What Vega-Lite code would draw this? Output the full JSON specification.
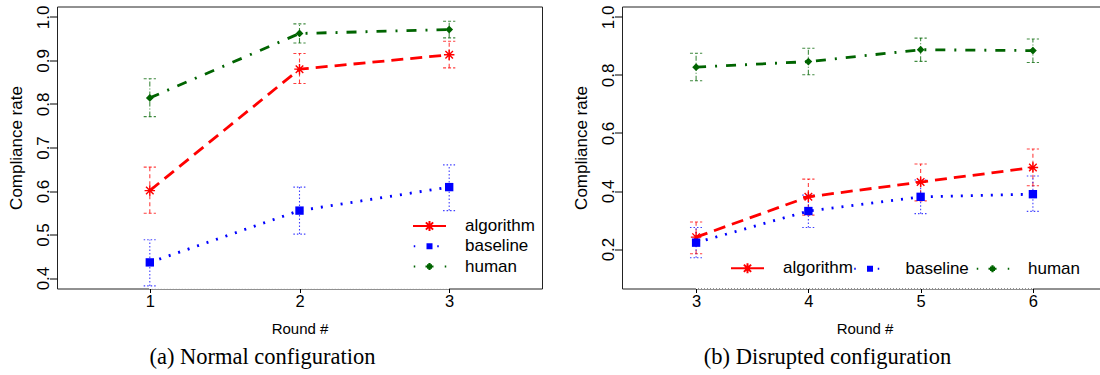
{
  "$schema": "https://vega.github.io/schema/vega-lite/v6.json",
  "background": "white",
  "padding": {"left": 6, "top": 4.5, "right": 0, "bottom": 0},
  "spacing": 28,
  "config": {
    "view": {"stroke": "#222", "strokeWidth": 1},
    "axis": {"labelFont": "Liberation Sans", "titleFont": "Liberation Sans", "labelColor": "black", "titleColor": "black", "tickColor": "black", "domain": false, "grid": false, "titleFontWeight": "normal", "labelFlush": false, "labelOverlap": false},
    "axisX": {"labelFontSize": 16.5, "titleFontSize": 15, "tickSize": 4, "labelPadding": 1, "titlePadding": 11},
    "axisY": {"labelAngle": 270, "labelAlign": "center", "labelBaseline": "alphabetic", "labelFontSize": 17, "labelPadding": 1, "tickSize": 7.5, "titleFontSize": 17, "titlePadding": 10, "minExtent": 22, "maxExtent": 22},
    "legend": {"labelFont": "Liberation Sans", "labelFontSize": 17, "labelColor": "black", "symbolSize": 100, "symbolStrokeWidth": 2, "symbolOpacity": 1, "labelOffset": 27, "padding": 0, "rowPadding": 1.3, "columnPadding": -3.5, "gridAlign": "all"},
    "title": {"font": "Liberation Serif", "fontSize": 22.5, "fontWeight": "normal", "color": "black", "orient": "bottom", "anchor": "middle", "offset": 10, "dx": -37}
  },
  "datasets": {
    "d": [
      {"panel": "a", "round": 1, "series": "algorithm", "mean": 0.601, "lo": 0.549, "hi": 0.655},
      {"panel": "a", "round": 2, "series": "algorithm", "mean": 0.880, "lo": 0.847, "hi": 0.916},
      {"panel": "a", "round": 3, "series": "algorithm", "mean": 0.913, "lo": 0.883, "hi": 0.944},
      {"panel": "a", "round": 1, "series": "baseline", "mean": 0.436, "lo": 0.382, "hi": 0.488},
      {"panel": "a", "round": 2, "series": "baseline", "mean": 0.555, "lo": 0.501, "hi": 0.609},
      {"panel": "a", "round": 3, "series": "baseline", "mean": 0.609, "lo": 0.555, "hi": 0.660},
      {"panel": "a", "round": 1, "series": "human", "mean": 0.814, "lo": 0.771, "hi": 0.858},
      {"panel": "a", "round": 2, "series": "human", "mean": 0.962, "lo": 0.940, "hi": 0.984},
      {"panel": "a", "round": 3, "series": "human", "mean": 0.971, "lo": 0.952, "hi": 0.990},
      {"panel": "b", "round": 3, "series": "algorithm", "mean": 0.241, "lo": 0.184, "hi": 0.293},
      {"panel": "b", "round": 4, "series": "algorithm", "mean": 0.380, "lo": 0.317, "hi": 0.441},
      {"panel": "b", "round": 5, "series": "algorithm", "mean": 0.431, "lo": 0.366, "hi": 0.493},
      {"panel": "b", "round": 6, "series": "algorithm", "mean": 0.481, "lo": 0.418, "hi": 0.545},
      {"panel": "b", "round": 3, "series": "baseline", "mean": 0.222, "lo": 0.170, "hi": 0.274},
      {"panel": "b", "round": 4, "series": "baseline", "mean": 0.331, "lo": 0.274, "hi": 0.386},
      {"panel": "b", "round": 5, "series": "baseline", "mean": 0.380, "lo": 0.322, "hi": 0.438},
      {"panel": "b", "round": 6, "series": "baseline", "mean": 0.389, "lo": 0.330, "hi": 0.452},
      {"panel": "b", "round": 3, "series": "human", "mean": 0.827, "lo": 0.780, "hi": 0.875},
      {"panel": "b", "round": 4, "series": "human", "mean": 0.846, "lo": 0.801, "hi": 0.892},
      {"panel": "b", "round": 5, "series": "human", "mean": 0.887, "lo": 0.847, "hi": 0.927},
      {"panel": "b", "round": 6, "series": "human", "mean": 0.884, "lo": 0.843, "hi": 0.924}
    ]
  },
  "data": {"name": "d"},
  "resolve": {"scale": {"color": "independent", "stroke": "independent", "shape": "independent", "strokeDash": "independent"}},
  "hconcat": [
    {
      "title": "(a) Normal configuration",
      "width": 485,
      "height": 282,
      "transform": [{"filter": "datum.panel == 'a'"}],
      "resolve": {"scale": {"strokeDash": "independent"}},
      "encoding": {
        "x": {"field": "round", "type": "quantitative", "scale": {"domain": [0.38, 3.62], "nice": false, "zero": false},
              "axis": {"values": [1, 2, 3], "format": "d", "title": "Round #"}}
      },
      "layer": [
        {
          "mark": {"type": "rule", "strokeWidth": 1.1, "opacity": 0.75},
          "encoding": {
            "y": {"field": "lo", "type": "quantitative", "scale": {"domain": [0.376, 1.024], "nice": false, "zero": false}, "axis": {"title": "Compliance rate", "values": [0.4, 0.5, 0.6, 0.7, 0.8, 0.9, 1.0], "format": ".1f"}},
            "y2": {"field": "hi"},
            "stroke": {"field": "series", "type": "nominal", "scale": {"domain": ["human", "baseline", "algorithm"], "range": ["#006400", "#0000ff", "#ff0000"]}, "legend": null},
            "strokeDash": {"field": "series", "type": "nominal", "scale": {"domain": ["human", "baseline", "algorithm"], "range": [[5, 2, 1, 2], [1.5, 2], [4, 3]]}, "legend": null}
          }
        },
        {
          "mark": {"type": "point", "shape": "M-1,0H1", "size": 150, "strokeWidth": 1.1, "opacity": 0.75, "filled": false},
          "encoding": {
            "y": {"field": "lo", "type": "quantitative", "axis": {"title": "Compliance rate", "values": [0.4, 0.5, 0.6, 0.7, 0.8, 0.9, 1.0], "format": ".1f"}},
            "stroke": {"field": "series", "type": "nominal", "legend": null},
            "strokeDash": {"field": "series", "type": "nominal", "scale": {"domain": ["human", "baseline", "algorithm"], "range": [[3, 2], [1.5, 2], [3, 2]]}, "legend": null}
          }
        },
        {
          "mark": {"type": "point", "shape": "M-1,0H1", "size": 150, "strokeWidth": 1.1, "opacity": 0.75, "filled": false},
          "encoding": {
            "y": {"field": "hi", "type": "quantitative", "axis": {"title": "Compliance rate", "values": [0.4, 0.5, 0.6, 0.7, 0.8, 0.9, 1.0], "format": ".1f"}},
            "stroke": {"field": "series", "type": "nominal", "legend": null},
            "strokeDash": {"field": "series", "type": "nominal", "scale": {"domain": ["human", "baseline", "algorithm"], "range": [[3, 2], [1.5, 2], [3, 2]]}, "legend": null}
          }
        },
        {
          "mark": {"type": "line", "strokeWidth": 2.8},
          "encoding": {
            "y": {"field": "mean", "type": "quantitative", "axis": {"title": "Compliance rate", "values": [0.4, 0.5, 0.6, 0.7, 0.8, 0.9, 1.0], "format": ".1f"}},
            "stroke": {"field": "series", "type": "nominal", "legend": null},
            "strokeDash": {"field": "series", "type": "nominal", "scale": {"domain": ["human", "baseline", "algorithm"], "range": [[10, 9, 2, 9], [2, 8], [12, 7]]}, "legend": null}
          }
        },
        {
          "transform": [{"filter": "datum.series == 'algorithm'"}],
          "mark": {"type": "point", "shape": "M-1,0H1M0,-1V1M-0.72,-0.72L0.72,0.72M-0.72,0.72L0.72,-0.72", "size": 110, "filled": false, "color": "#ff0000", "strokeWidth": 1.4, "opacity": 1},
          "encoding": {"y": {"field": "mean", "type": "quantitative", "axis": {"title": "Compliance rate", "values": [0.4, 0.5, 0.6, 0.7, 0.8, 0.9, 1.0], "format": ".1f"}}}
        },
        {
          "transform": [{"filter": "datum.series == 'baseline'"}],
          "mark": {"type": "point", "shape": "square", "size": 70, "filled": true, "color": "#0000ff", "opacity": 1},
          "encoding": {"y": {"field": "mean", "type": "quantitative", "axis": {"title": "Compliance rate", "values": [0.4, 0.5, 0.6, 0.7, 0.8, 0.9, 1.0], "format": ".1f"}}}
        },
        {
          "transform": [{"filter": "datum.series == 'human'"}],
          "mark": {"type": "point", "shape": "diamond", "size": 60, "filled": true, "color": "#006400", "opacity": 1},
          "encoding": {"y": {"field": "mean", "type": "quantitative", "axis": {"title": "Compliance rate", "values": [0.4, 0.5, 0.6, 0.7, 0.8, 0.9, 1.0], "format": ".1f"}}}
        },
        {
          "mark": {"type": "rule", "color": "#ffffff", "strokeWidth": 1, "strokeDash": [1.5, 1.5]},
          "encoding": {
            "x": {"datum": 1, "type": "quantitative", "axis": {"values": [1, 2, 3], "format": "d", "title": "Round #"}},
            "x2": {"datum": 3},
            "y": {"datum": 0.376, "type": "quantitative", "axis": {"title": "Compliance rate", "values": [0.4, 0.5, 0.6, 0.7, 0.8, 0.9, 1.0], "format": ".1f"}}
          }
        },
        {
          "mark": {"type": "point", "filled": false, "opacity": 0, "size": 100, "strokeWidth": 2},
          "encoding": {
            "y": {"field": "mean", "type": "quantitative", "axis": {"title": "Compliance rate", "values": [0.4, 0.5, 0.6, 0.7, 0.8, 0.9, 1.0], "format": ".1f"}},
            "color": {"field": "series", "type": "nominal", "scale": {"domain": ["algorithm", "baseline", "human"], "range": ["#ff0000", "#0000ff", "#006400"]}, "legend": {"title": null, "orient": "none", "legendX": 364, "legendY": 211, "direction": "vertical"}},
            "shape": {"field": "series", "type": "nominal", "scale": {"domain": ["algorithm", "baseline", "human"], "range": [
              "M-3.3,0H3.3M0,-1V1M-0.72,-0.72L0.72,0.72M-0.72,0.72L0.72,-0.72",
              "M-3.15,0H-2.85M-0.6,-0.4H0.6M-0.6,0H0.6M-0.6,0.4H0.6M1.55,0H1.85",
              "M-3.15,0H-2.85M-0.8,0H0.8M-0.5,-0.25H0.5M-0.5,0.25H0.5M-0.22,-0.5H0.22M-0.22,0.5H0.22M3.05,0H3.35"
            ]}, "legend": {"title": null, "orient": "none", "legendX": 364, "legendY": 211, "direction": "vertical"}}
          }
        }
      ]
    },
    {
      "title": "(b) Disrupted configuration",
      "width": 485,
      "height": 282,
      "transform": [{"filter": "datum.panel == 'b'"}],
      "resolve": {"scale": {"strokeDash": "independent"}},
      "encoding": {
        "x": {"field": "round", "type": "quantitative", "scale": {"domain": [2.34, 6.66], "nice": false, "zero": false},
              "axis": {"values": [3, 4, 5, 6], "format": "d", "title": "Round #"}}
      },
      "layer": [
        {
          "mark": {"type": "rule", "strokeWidth": 1.1, "opacity": 0.75},
          "encoding": {
            "y": {"field": "lo", "type": "quantitative", "scale": {"domain": [0.064, 1.036], "nice": false, "zero": false}, "axis": {"title": "Compliance rate", "values": [0.2, 0.4, 0.6, 0.8, 1.0], "format": ".1f"}},
            "y2": {"field": "hi"},
            "stroke": {"field": "series", "type": "nominal", "scale": {"domain": ["human", "baseline", "algorithm"], "range": ["#006400", "#0000ff", "#ff0000"]}, "legend": null},
            "strokeDash": {"field": "series", "type": "nominal", "scale": {"domain": ["human", "baseline", "algorithm"], "range": [[5, 2, 1, 2], [1.5, 2], [4, 3]]}, "legend": null}
          }
        },
        {
          "mark": {"type": "point", "shape": "M-1,0H1", "size": 150, "strokeWidth": 1.1, "opacity": 0.75, "filled": false},
          "encoding": {
            "y": {"field": "lo", "type": "quantitative", "axis": {"title": "Compliance rate", "values": [0.2, 0.4, 0.6, 0.8, 1.0], "format": ".1f"}},
            "stroke": {"field": "series", "type": "nominal", "legend": null},
            "strokeDash": {"field": "series", "type": "nominal", "scale": {"domain": ["human", "baseline", "algorithm"], "range": [[3, 2], [1.5, 2], [3, 2]]}, "legend": null}
          }
        },
        {
          "mark": {"type": "point", "shape": "M-1,0H1", "size": 150, "strokeWidth": 1.1, "opacity": 0.75, "filled": false},
          "encoding": {
            "y": {"field": "hi", "type": "quantitative", "axis": {"title": "Compliance rate", "values": [0.2, 0.4, 0.6, 0.8, 1.0], "format": ".1f"}},
            "stroke": {"field": "series", "type": "nominal", "legend": null},
            "strokeDash": {"field": "series", "type": "nominal", "scale": {"domain": ["human", "baseline", "algorithm"], "range": [[3, 2], [1.5, 2], [3, 2]]}, "legend": null}
          }
        },
        {
          "mark": {"type": "line", "strokeWidth": 2.8},
          "encoding": {
            "y": {"field": "mean", "type": "quantitative", "axis": {"title": "Compliance rate", "values": [0.2, 0.4, 0.6, 0.8, 1.0], "format": ".1f"}},
            "stroke": {"field": "series", "type": "nominal", "legend": null},
            "strokeDash": {"field": "series", "type": "nominal", "scale": {"domain": ["human", "baseline", "algorithm"], "range": [[10, 9, 2, 9], [2, 8], [12, 7]]}, "legend": null}
          }
        },
        {
          "transform": [{"filter": "datum.series == 'algorithm'"}],
          "mark": {"type": "point", "shape": "M-1,0H1M0,-1V1M-0.72,-0.72L0.72,0.72M-0.72,0.72L0.72,-0.72", "size": 110, "filled": false, "color": "#ff0000", "strokeWidth": 1.4, "opacity": 1},
          "encoding": {"y": {"field": "mean", "type": "quantitative", "axis": {"title": "Compliance rate", "values": [0.2, 0.4, 0.6, 0.8, 1.0], "format": ".1f"}}}
        },
        {
          "transform": [{"filter": "datum.series == 'baseline'"}],
          "mark": {"type": "point", "shape": "square", "size": 70, "filled": true, "color": "#0000ff", "opacity": 1},
          "encoding": {"y": {"field": "mean", "type": "quantitative", "axis": {"title": "Compliance rate", "values": [0.2, 0.4, 0.6, 0.8, 1.0], "format": ".1f"}}}
        },
        {
          "transform": [{"filter": "datum.series == 'human'"}],
          "mark": {"type": "point", "shape": "diamond", "size": 60, "filled": true, "color": "#006400", "opacity": 1},
          "encoding": {"y": {"field": "mean", "type": "quantitative", "axis": {"title": "Compliance rate", "values": [0.2, 0.4, 0.6, 0.8, 1.0], "format": ".1f"}}}
        },
        {
          "mark": {"type": "rule", "color": "#ffffff", "strokeWidth": 1, "strokeDash": [1.5, 1.5]},
          "encoding": {
            "x": {"datum": 3, "type": "quantitative", "axis": {"values": [3, 4, 5, 6], "format": "d", "title": "Round #"}},
            "x2": {"datum": 6},
            "y": {"datum": 0.064, "type": "quantitative", "axis": {"title": "Compliance rate", "values": [0.2, 0.4, 0.6, 0.8, 1.0], "format": ".1f"}}
          }
        },
        {
          "mark": {"type": "point", "filled": false, "opacity": 0, "size": 100, "strokeWidth": 2},
          "encoding": {
            "y": {"field": "mean", "type": "quantitative", "axis": {"title": "Compliance rate", "values": [0.2, 0.4, 0.6, 0.8, 1.0], "format": ".1f"}},
            "color": {"field": "series", "type": "nominal", "scale": {"domain": ["algorithm", "baseline", "human"], "range": ["#ff0000", "#0000ff", "#006400"]}, "legend": {"title": null, "orient": "none", "legendX": 117, "legendY": 253, "direction": "horizontal", "columns": 3}},
            "shape": {"field": "series", "type": "nominal", "scale": {"domain": ["algorithm", "baseline", "human"], "range": [
              "M-3.3,0H3.3M0,-1V1M-0.72,-0.72L0.72,0.72M-0.72,0.72L0.72,-0.72",
              "M-3.15,0H-2.85M-0.6,-0.4H0.6M-0.6,0H0.6M-0.6,0.4H0.6M1.55,0H1.85",
              "M-3.15,0H-2.85M-0.8,0H0.8M-0.5,-0.25H0.5M-0.5,0.25H0.5M-0.22,-0.5H0.22M-0.22,0.5H0.22M3.05,0H3.35"
            ]}, "legend": {"title": null, "orient": "none", "legendX": 117, "legendY": 253, "direction": "horizontal", "columns": 3}}
          }
        }
      ]
    }
  ]
}
